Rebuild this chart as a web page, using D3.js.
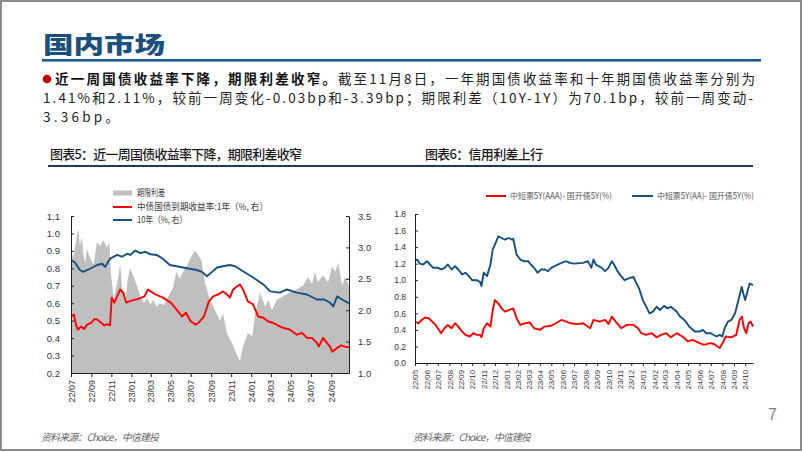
<!DOCTYPE html>
<html><head><meta charset="utf-8">
<script src="https://cdn.jsdelivr.net/npm/d3@7"></script>
<style>body{margin:0;background:#fff}svg{display:block}</style>
</head><body>
<svg id="c" width="802" height="452"></svg>
<script>
// ---------------- DATA ----------------
// Chart 5: term spread (left axis), 1Y and 10Y treasury yields (right axis)
const spreadSeries = [
["2022-07-01",0.90],["2022-07-08",0.86],["2022-07-16",0.95],["2022-07-23",1.03],["2022-07-28",0.93],
["2022-08-03",0.98],["2022-08-08",0.88],["2022-08-13",0.83],["2022-08-18",0.91],["2022-08-28",0.86],
["2022-09-08",0.82],["2022-09-18",0.95],["2022-09-28",0.93],["2022-10-08",0.96],["2022-10-18",0.92],
["2022-10-26",0.95],["2022-10-30",0.78],["2022-11-08",0.63],["2022-11-18",0.71],["2022-11-28",0.82],
["2022-12-03",0.70],["2022-12-13",0.58],["2022-12-20",0.73],["2022-12-28",0.80],["2023-01-08",0.75],
["2023-01-18",0.70],["2023-01-28",0.64],["2023-02-08",0.60],["2023-02-18",0.63],["2023-02-28",0.59],
["2023-03-08",0.62],["2023-03-19",0.58],["2023-03-28",0.60],["2023-04-10",0.59],["2023-04-18",0.62],
["2023-05-08",0.69],["2023-05-18",0.78],["2023-05-28",0.74],["2023-06-10",0.79],["2023-06-18",0.81],
["2023-07-03",0.87],["2023-07-13",0.90],["2023-07-23",0.88],["2023-08-03",0.84],["2023-08-13",0.72],
["2023-08-28",0.62],["2023-09-13",0.56],["2023-09-28",0.50],["2023-10-07",0.54],["2023-10-19",0.43],
["2023-11-04",0.37],["2023-11-19",0.30],["2023-11-28",0.27],["2023-12-07",0.35],["2023-12-22",0.43],
["2024-01-04",0.41],["2024-01-13",0.54],["2024-01-28",0.66],["2024-02-13",0.58],["2024-02-22",0.62],
["2024-03-04",0.56],["2024-03-19",0.62],["2024-04-07",0.64],["2024-04-28",0.66],["2024-05-19",0.68],
["2024-06-07",0.70],["2024-06-22",0.75],["2024-07-04",0.71],["2024-07-13",0.78],["2024-07-22",0.72],
["2024-08-07",0.76],["2024-08-22",0.72],["2024-09-04",0.81],["2024-09-13",0.78],["2024-09-22",0.83],
["2024-09-28",0.77],["2024-10-04",0.70],["2024-10-13",0.75],["2024-10-25",0.70]
];
const yield1YSeries = [
["2022-07-01",1.90],["2022-07-10",1.93],["2022-07-16",1.77],["2022-07-22",1.69],["2022-08-01",1.74],
["2022-08-10",1.70],["2022-08-19",1.77],["2022-09-01",1.80],["2022-09-10",1.86],["2022-09-19",1.85],
["2022-10-01",1.80],["2022-10-10",1.76],["2022-10-19",1.78],["2022-10-28",1.76],["2022-11-02",2.20],
["2022-11-10",2.12],["2022-11-19",2.22],["2022-11-28",2.33],["2022-12-07",2.28],["2022-12-16",2.12],
["2022-12-25",2.14],["2023-01-07",2.16],["2023-01-22",2.18],["2023-02-10",2.22],["2023-02-20",2.33],
["2023-03-01",2.30],["2023-03-16",2.25],["2023-04-07",2.20],["2023-04-19",2.16],["2023-05-01",2.12],
["2023-05-19",2.01],["2023-06-04",1.90],["2023-06-16",1.96],["2023-07-01",1.82],["2023-07-16",1.77],
["2023-07-25",1.80],["2023-08-10",1.90],["2023-08-25",2.14],["2023-09-07",2.22],["2023-09-22",2.25],
["2023-10-07",2.30],["2023-10-19",2.25],["2023-10-28",2.20],["2023-11-07",2.33],["2023-11-19",2.38],
["2023-11-28",2.41],["2023-12-07",2.33],["2023-12-22",2.14],["2024-01-07",2.09],["2024-01-22",1.90],
["2024-02-07",1.88],["2024-02-22",1.82],["2024-03-07",1.80],["2024-03-22",1.76],["2024-04-07",1.72],
["2024-04-28",1.69],["2024-05-19",1.61],["2024-06-04",1.64],["2024-06-19",1.56],["2024-07-04",1.56],
["2024-07-19",1.48],["2024-07-25",1.42],["2024-08-07",1.56],["2024-08-19",1.48],["2024-08-28",1.42],
["2024-09-04",1.34],["2024-09-19",1.40],["2024-10-01",1.44],["2024-10-13",1.42],["2024-10-25",1.41]
];
const yield10YSeries = [
["2022-07-01",2.80],["2022-07-13",2.76],["2022-07-28",2.64],["2022-08-07",2.61],["2022-08-28",2.66],
["2022-09-19",2.72],["2022-10-04",2.74],["2022-10-13",2.69],["2022-10-28",2.82],["2022-11-19",2.88],
["2022-12-04",2.85],["2022-12-19",2.90],["2022-12-28",2.88],["2023-01-13",2.95],["2023-01-28",2.91],
["2023-02-13",2.93],["2023-02-28",2.89],["2023-03-19",2.88],["2023-04-07",2.82],["2023-04-28",2.72],
["2023-05-19",2.70],["2023-06-07",2.68],["2023-06-28",2.66],["2023-07-19",2.64],["2023-08-04",2.61],
["2023-08-19",2.54],["2023-09-04",2.61],["2023-09-19",2.68],["2023-10-07",2.70],["2023-10-28",2.72],
["2023-11-13",2.70],["2023-12-07",2.62],["2024-01-07",2.52],["2024-02-07",2.41],["2024-02-28",2.30],
["2024-03-28",2.28],["2024-04-19",2.33],["2024-05-19",2.28],["2024-06-19",2.25],["2024-07-19",2.17],
["2024-08-10",2.17],["2024-08-28",2.12],["2024-09-07",2.06],["2024-09-19",2.22],["2024-10-04",2.17],
["2024-10-25",2.11]
];
// Chart 6: credit spreads
const aaaSpreadSeries = [
["2022-05-01",0.50],["2022-05-10",0.48],["2022-05-19",0.52],["2022-05-28",0.55],["2022-06-07",0.54],
["2022-06-16",0.50],["2022-06-25",0.46],["2022-07-01",0.42],["2022-07-10",0.36],["2022-07-19",0.42],
["2022-07-28",0.46],["2022-08-07",0.42],["2022-08-16",0.48],["2022-08-25",0.44],["2022-09-04",0.38],
["2022-09-13",0.34],["2022-09-25",0.32],["2022-10-04",0.36],["2022-10-13",0.34],["2022-10-22",0.34],
["2022-10-26",0.31],["2022-11-01",0.42],["2022-11-10",0.48],["2022-11-19",0.44],["2022-11-25",0.64],
["2022-12-01",0.76],["2022-12-10",0.72],["2022-12-19",0.66],["2022-12-28",0.62],["2023-01-07",0.64],
["2023-01-19",0.66],["2023-01-28",0.54],["2023-02-07",0.46],["2023-02-19",0.48],["2023-03-04",0.49],
["2023-03-16",0.42],["2023-04-01",0.40],["2023-04-13",0.44],["2023-05-01",0.45],["2023-05-13",0.48],
["2023-05-28",0.52],["2023-06-10",0.50],["2023-06-22",0.48],["2023-07-07",0.47],["2023-07-25",0.48],
["2023-08-13",0.42],["2023-08-22",0.52],["2023-09-07",0.50],["2023-09-22",0.52],["2023-10-01",0.47],
["2023-10-10",0.56],["2023-10-22",0.49],["2023-11-04",0.42],["2023-11-19",0.46],["2023-12-07",0.46],
["2023-12-19",0.42],["2023-12-28",0.36],["2024-01-10",0.34],["2024-01-25",0.36],["2024-02-07",0.31],
["2024-02-19",0.34],["2024-03-04",0.36],["2024-03-16",0.31],["2024-04-01",0.36],["2024-04-16",0.32],
["2024-05-01",0.26],["2024-05-13",0.28],["2024-06-01",0.24],["2024-06-13",0.22],["2024-06-28",0.24],
["2024-07-10",0.23],["2024-07-19",0.20],["2024-07-25",0.18],["2024-08-04",0.26],["2024-08-10",0.32],
["2024-08-25",0.31],["2024-09-07",0.34],["2024-09-16",0.52],["2024-09-22",0.56],["2024-09-28",0.42],
["2024-10-04",0.36],["2024-10-10",0.48],["2024-10-16",0.50],["2024-10-22",0.44]
];
const aaSpreadSeries = [
["2022-05-01",1.23],["2022-05-07",1.25],["2022-05-14",1.20],["2022-05-23",1.19],["2022-06-02",1.23],
["2022-06-10",1.19],["2022-06-19",1.15],["2022-07-02",1.15],["2022-07-10",1.13],["2022-07-19",1.15],
["2022-07-28",1.19],["2022-08-07",1.13],["2022-08-16",1.17],["2022-08-25",1.13],["2022-09-04",1.07],
["2022-09-13",1.09],["2022-09-22",1.05],["2022-10-01",1.00],["2022-10-13",1.00],["2022-10-22",0.98],
["2022-10-26",0.93],["2022-11-01",1.09],["2022-11-10",1.05],["2022-11-19",1.19],["2022-11-25",1.37],
["2022-12-01",1.43],["2022-12-10",1.53],["2022-12-19",1.51],["2022-12-28",1.49],["2023-01-07",1.51],
["2023-01-16",1.49],["2023-01-19",1.50],["2023-01-28",1.31],["2023-02-07",1.25],["2023-02-16",1.23],
["2023-02-28",1.23],["2023-03-07",1.19],["2023-03-16",1.15],["2023-03-25",1.09],["2023-04-04",1.13],
["2023-04-13",1.13],["2023-04-22",1.11],["2023-05-01",1.15],["2023-05-10",1.17],["2023-05-19",1.19],
["2023-05-28",1.21],["2023-06-10",1.23],["2023-06-19",1.21],["2023-07-01",1.20],["2023-07-25",1.21],
["2023-08-07",1.23],["2023-08-16",1.15],["2023-08-22",1.25],["2023-08-28",1.19],["2023-09-13",1.15],
["2023-09-22",1.11],["2023-10-01",1.15],["2023-10-10",1.23],["2023-10-16",1.19],["2023-10-25",1.11],
["2023-11-04",1.05],["2023-11-13",1.00],["2023-11-22",1.02],["2023-12-07",1.04],["2023-12-13",0.98],
["2023-12-22",0.90],["2024-01-01",0.76],["2024-01-10",0.68],["2024-01-19",0.60],["2024-01-28",0.62],
["2024-02-07",0.68],["2024-02-16",0.64],["2024-02-27",0.69],["2024-03-07",0.66],["2024-03-16",0.68],
["2024-04-01",0.62],["2024-04-10",0.56],["2024-04-16",0.54],["2024-04-25",0.50],["2024-05-04",0.44],
["2024-05-19",0.38],["2024-06-01",0.38],["2024-06-10",0.40],["2024-06-19",0.36],["2024-07-01",0.36],
["2024-07-16",0.32],["2024-07-25",0.34],["2024-08-01",0.32],["2024-08-07",0.42],["2024-08-16",0.50],
["2024-08-25",0.52],["2024-09-04",0.60],["2024-09-13",0.76],["2024-09-22",0.92],["2024-09-26",0.84],
["2024-10-01",0.76],["2024-10-07",0.86],["2024-10-13",0.96],["2024-10-22",0.94]
];
const chart5XTickLabels = ["22/07","22/09","22/11","23/01","23/03","23/05","23/07","23/09","23/11","24/01","24/03","24/05","24/07","24/09"];
const chart6XTickLabels = ["22/05","22/06","22/07","22/08","22/09","22/10","22/11","22/12","23/01","23/02","23/03","23/04","23/05","23/06","23/07","23/08","23/09","23/10","23/11","23/12","24/01","24/02","24/03","24/04","24/05","24/06","24/07","24/08","24/09","24/10"];
const chart5LeftTicks = [0.2,0.3,0.4,0.5,0.6,0.7,0.8,0.9,1.0,1.1];
const chart5RightTicks = [1.0,1.5,2.0,2.5,3.0,3.5];
const chart6YTicks = [0.0,0.2,0.4,0.6,0.8,1.0,1.2,1.4,1.6,1.8];
const chart5Legend = ["期限利差","中债国债到期收益率:1年（%, 右）","10年（%, 右）"];
const chart6Legend = ["中短票5Y(AAA)- 国开债5Y(%)","中短票5Y(AA)- 国开债5Y(%)"];

// ---------------- DRAW ----------------
const svg = d3.select("#c");
const parse = d3.timeParse("%Y-%m-%d");
const toPts = a => a.map(d => ({date: parse(d[0]), v: d[1]}));
const labelDate = s => new Date(2000 + +s.slice(0,2), +s.slice(3,5) - 1, 1);
const CJK = "'Noto Sans CJK SC', sans-serif";
const NUM = "'Liberation Sans', Arial, sans-serif";
const RED = "#ff0000", BLUE = "#15507f", GRAY = "#bfbfbf";

// slide frame
svg.append("rect").attr("x",1).attr("y",1).attr("width",800).attr("height",449)
  .attr("fill","#fff").attr("stroke","#8c8c8c").attr("stroke-width",2);

// heading
svg.append("text").attr("x",43).attr("y",53).text("国内市场")
  .attr("font-family",CJK).attr("font-weight",900).attr("font-size",23)
  .attr("textLength",122).attr("lengthAdjust","spacingAndGlyphs").attr("fill","#1b4f7c");
svg.append("rect").attr("x",42).attr("y",59).attr("width",719).attr("height",2.6).attr("fill","#1f5a8c");

// bullet paragraph
svg.append("circle").attr("cx",47).attr("cy",79).attr("r",4.3).attr("fill","#c00000");
function para(x, y, s, len, bold){
  svg.append("text").attr("x",x).attr("y",y).text(s)
    .attr("font-family",CJK).attr("font-size",13.5).attr("font-weight",bold?700:400)
    .attr("fill",bold?"#111":"#222").attr("textLength",len).attr("lengthAdjust","spacing");
}
para(55,84,"近一周国债收益率下降，期限利差收窄。",281,true);
para(338,84,"截至11月8日，一年期国债收益率和十年期国债收益率分别为",417,false);
para(43,103,"1.41%和2.11%，较前一周变化-0.03bp和-3.39bp；期限利差（10Y-1Y）为70.1bp，较前一周变动-",710,false);
para(43,122,"3.36bp。",76,false);

// chart titles & rule
function ctitle(x, s, len){
  svg.append("text").attr("x",x).attr("y",159).text(s)
    .attr("font-family",CJK).attr("font-size",13).attr("font-weight",500).attr("fill","#1a1a1a")
    .attr("textLength",len).attr("lengthAdjust","spacing");
}
ctitle(50,"图表5：近一周国债收益率下降，期限利差收窄",252);
ctitle(425,"图表6：信用利差上行",118);
svg.append("rect").attr("x",48).attr("y",165).attr("width",705).attr("height",2).attr("fill","#1f3864");

function styleAxis(g, size){
  g.selectAll("path.domain").attr("stroke","#222").attr("stroke-width",1);
  g.selectAll(".tick line").attr("stroke","#222");
  g.selectAll(".tick text").attr("font-family",NUM).attr("font-size",size).attr("fill","#333");
}

// ----- Chart 5 -----
const x5 = d3.scaleTime().domain([parse("2022-07-01"), parse("2024-10-25")]).range([71,349]);
const y5L = d3.scaleLinear().domain([0.2,1.1]).range([373,216]);
const y5R = d3.scaleLinear().domain([1.0,3.5]).range([373,216]);

svg.append("path").datum(toPts(spreadSeries))
  .attr("d", d3.area().x(d=>x5(d.date)).y0(y5L(0.2)).y1(d=>y5L(d.v)))
  .attr("fill",GRAY);
const line5 = d3.line().x(d=>x5(d.date)).y(d=>y5R(d.v));
svg.append("path").datum(toPts(yield1YSeries)).attr("d",line5)
  .attr("fill","none").attr("stroke",RED).attr("stroke-width",1.9).attr("stroke-linejoin","round");
svg.append("path").datum(toPts(yield10YSeries)).attr("d",line5)
  .attr("fill","none").attr("stroke",BLUE).attr("stroke-width",1.9).attr("stroke-linejoin","round");

const gL = svg.append("g").attr("transform","translate(71,0)")
  .call(d3.axisLeft(y5L).tickValues(chart5LeftTicks).tickFormat(d3.format(".1f")).tickSizeInner(-3).tickSizeOuter(0).tickPadding(11));
styleAxis(gL,9.5);
const gR = svg.append("g").attr("transform","translate(349,0)")
  .call(d3.axisRight(y5R).tickValues(chart5RightTicks).tickFormat(d3.format(".1f")).tickSizeInner(-3).tickSizeOuter(0).tickPadding(9));
styleAxis(gR,9.5);
const gB = svg.append("g").attr("transform","translate(0,373)")
  .call(d3.axisBottom(x5).tickValues(chart5XTickLabels.map(labelDate)).tickFormat((d,i)=>chart5XTickLabels[i]).tickSizeInner(4).tickSizeOuter(0));
styleAxis(gB,9);
gB.selectAll(".tick text").attr("transform","rotate(-90)").attr("x",-7).attr("y",0).attr("dy","0.34em").attr("text-anchor","end");

// legend 5
svg.append("rect").attr("x",113).attr("y",190.5).attr("width",19).attr("height",5).attr("fill",GRAY);
svg.append("line").attr("x1",113).attr("x2",132).attr("y1",207).attr("y2",207).attr("stroke",RED).attr("stroke-width",2);
svg.append("line").attr("x1",113).attr("x2",132).attr("y1",220).attr("y2",220).attr("stroke",BLUE).attr("stroke-width",2);
[[193,28],[207,131],[220,50]].forEach((p,i)=>{
  svg.append("text").attr("x",137).attr("y",p[0]).attr("dy","0.35em").text(chart5Legend[i])
    .attr("font-family",CJK).attr("font-size",9.5).attr("fill","#404040")
    .attr("textLength",p[1]).attr("lengthAdjust","spacingAndGlyphs");
});

// ----- Chart 6 -----
const x6 = d3.scaleTime().domain([parse("2022-05-01"), parse("2024-10-22")]).range([415,753]);
const y6 = d3.scaleLinear().domain([0,1.8]).range([363,214]);
const line6 = d3.line().x(d=>x6(d.date)).y(d=>y6(d.v));
svg.append("path").datum(toPts(aaaSpreadSeries)).attr("d",line6)
  .attr("fill","none").attr("stroke",RED).attr("stroke-width",1.9).attr("stroke-linejoin","round");
svg.append("path").datum(toPts(aaSpreadSeries)).attr("d",line6)
  .attr("fill","none").attr("stroke",BLUE).attr("stroke-width",1.9).attr("stroke-linejoin","round");

const g6L = svg.append("g").attr("transform","translate(415,0)")
  .call(d3.axisLeft(y6).tickValues(chart6YTicks).tickFormat(d3.format(".1f")).tickSizeInner(-3).tickSizeOuter(0).tickPadding(9));
styleAxis(g6L,8.5);
const g6B = svg.append("g").attr("transform","translate(0,363)")
  .call(d3.axisBottom(x6).tickValues(chart6XTickLabels.map(labelDate)).tickFormat((d,i)=>chart6XTickLabels[i]).tickSizeInner(3).tickSizeOuter(0));
styleAxis(g6B,7.8);
g6B.selectAll(".tick text").attr("transform","rotate(-90)").attr("x",-7).attr("y",0).attr("dy","0.34em").attr("text-anchor","end");

// legend 6
svg.append("line").attr("x1",486).attr("x2",506).attr("y1",196).attr("y2",196).attr("stroke",RED).attr("stroke-width",2);
svg.append("line").attr("x1",632).attr("x2",653).attr("y1",196).attr("y2",196).attr("stroke",BLUE).attr("stroke-width",2);
[[510,102],[657,97]].forEach((p,i)=>{
  svg.append("text").attr("x",p[0]).attr("y",196).attr("dy","0.35em").text(chart6Legend[i])
    .attr("font-family",CJK).attr("font-size",8.5).attr("fill","#555")
    .attr("textLength",p[1]).attr("lengthAdjust","spacingAndGlyphs");
});

// sources & page number
[[41],[413]].forEach(p=>{
  svg.append("text").attr("x",p[0]).attr("y",441).text("资料来源：Choice，中信建投")
    .attr("font-family",CJK).attr("font-size",10).attr("font-style","italic").attr("fill","#666")
    .attr("textLength",118).attr("lengthAdjust","spacing");
});
svg.append("text").attr("x",768).attr("y",420).text("7")
  .attr("font-family",NUM).attr("font-size",16).attr("fill","#7f7f7f");
</script>
</body></html>
